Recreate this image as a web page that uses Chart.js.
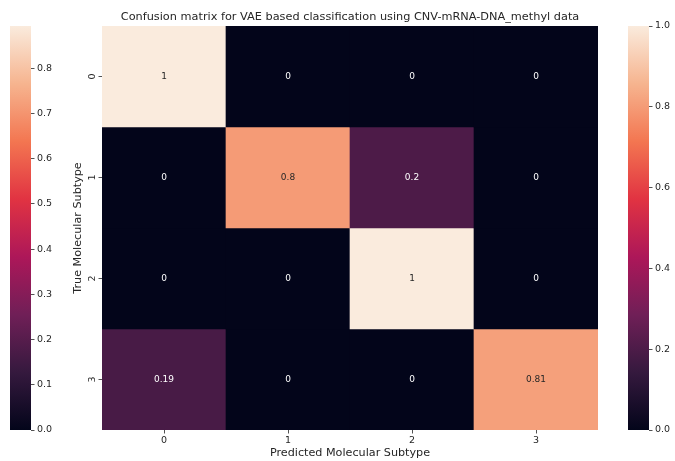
<!DOCTYPE html>
<html>
<head>
<meta charset="utf-8">
<title>Confusion matrix</title>
<script src="https://cdn.jsdelivr.net/npm/chart.js@4/dist/chart.umd.min.js"></script>
<style>
  html, body { margin: 0; padding: 0; background: #ffffff; }
  #wrap { position: relative; width: 675px; height: 461px; overflow: hidden; }
  #wrap canvas { position: absolute; top: 0; }
  #main { left: 0; }
  #barLeft { left: 0; }
  #barRight { left: 598px; }
</style>
</head>
<body>
<div id="wrap">
  <canvas id="main" width="675" height="461"></canvas>
  <canvas id="barLeft" width="62" height="461"></canvas>
  <canvas id="barRight" width="77" height="461"></canvas>
</div>
<script>
// ---- data ----
const predictedLabels = ['0', '1', '2', '3'];
const trueLabels = ['0', '1', '2', '3'];
const row0 = [1, 0, 0, 0];
const row1 = [0, 0.8, 0.2, 0];
const row2 = [0, 0, 1, 0];
const row3 = [0.19, 0, 0, 0.81];
const matrixRows = [row0, row1, row2, row3];

// colour bar ranges and tick values
const leftBarMax = 0.893;
const leftBarTicks = [0, 0.1, 0.2, 0.3, 0.4, 0.5, 0.6, 0.7, 0.8];
const rightBarMax = 1.0;
const rightBarTicks = [0, 0.2, 0.4, 0.6, 0.8, 1.0];

// ---- "rocket" colour map ----
const rocketStops = [
  [0 / 7, [3, 5, 26]],
  [1 / 7, [53, 25, 62]],
  [2 / 7, [112, 31, 87]],
  [3 / 7, [173, 23, 89]],
  [4 / 7, [225, 51, 66]],
  [5 / 7, [243, 118, 81]],
  [6 / 7, [246, 180, 143]],
  [7 / 7, [250, 235, 221]]
];

function rocketRGB(t) {
  t = Math.max(0, Math.min(1, t));
  for (let i = 1; i < rocketStops.length; i++) {
    const [t1, c1] = rocketStops[i];
    const [t0, c0] = rocketStops[i - 1];
    if (t <= t1) {
      const f = (t - t0) / (t1 - t0);
      return c0.map((a, k) => Math.round(a + (c1[k] - a) * f));
    }
  }
  return rocketStops[rocketStops.length - 1][1];
}
const rgbCss = (c) => `rgb(${c[0]},${c[1]},${c[2]})`;

function luminance(c) {
  const lin = c.map(v => {
    v /= 255;
    return v <= 0.03928 ? v / 12.92 : Math.pow((v + 0.055) / 1.055, 2.4);
  });
  return 0.2126 * lin[0] + 0.7152 * lin[1] + 0.0722 * lin[2];
}

const fmt2g = (v) => String(Number(v.toPrecision(2)));

const TEXT = '#262626';
const FONT = 'DejaVu Sans';

// writes each cell's value at the centre of its bar
const cellText = {
  id: 'cellText',
  afterDatasetsDraw(chart) {
    const ctx = chart.ctx;
    ctx.save();
    ctx.font = `9px "${FONT}"`;
    ctx.textAlign = 'center';
    ctx.textBaseline = 'middle';
    chart.data.datasets.forEach((ds, r) => {
      chart.getDatasetMeta(r).data.forEach((bar, c) => {
        const v = matrixRows[r][c];
        const p = bar.getProps(['x', 'y', 'base'], true);
        const col = rocketRGB(v / rightBarMax);
        ctx.fillStyle = luminance(col) > 0.408 ? TEXT : '#ffffff';
        ctx.fillText(fmt2g(v), p.x, (p.y + p.base) / 2);
      });
    });
    ctx.restore();
  }
};

const tickGrid = {
  drawOnChartArea: false,
  drawTicks: true,
  tickLength: 3.5,
  color: TEXT,
  lineWidth: 0.8
};

// ---- heat map ----
new Chart(document.getElementById('main'), {
  type: 'bar',
  data: {
    labels: predictedLabels,
    datasets: trueLabels.map((lab, r) => ({
      label: lab,
      data: predictedLabels.map(() => [r, r + 1]),
      backgroundColor: matrixRows[r].map(v => rgbCss(rocketRGB(v / rightBarMax))),
      borderWidth: 0,
      grouped: false,
      categoryPercentage: 1,
      barPercentage: 1
    }))
  },
  options: {
    responsive: false,
    animation: false,
    events: [],
    layout: { padding: { left: 62, right: 77, top: 0, bottom: 0 } },
    plugins: {
      legend: { display: false },
      tooltip: { enabled: false },
      title: {
        display: true,
        fullSize: false,
        text: 'Confusion matrix for VAE based classification using CNV-mRNA-DNA_methyl data',
        color: TEXT,
        font: { family: FONT, size: 11.3, weight: 'normal' },
        padding: { top: 10, bottom: 2.4 }
      }
    },
    scales: {
      x: {
        type: 'category',
        offset: true,
        grid: Object.assign({ offset: false }, tickGrid),
        border: { display: false },
        ticks: {
          color: TEXT,
          font: { family: FONT, size: 9.5 },
          padding: 1,
          minRotation: 0,
          maxRotation: 0
        },
        title: {
          display: true,
          text: 'Predicted Molecular Subtype',
          color: TEXT,
          font: { family: FONT, size: 11.2 },
          padding: { top: 0, bottom: 1.3 }
        },
        afterFit: (s) => { s.height = 31; }
      },
      y: {
        type: 'linear',
        min: 0,
        max: trueLabels.length,
        reverse: true,
        afterBuildTicks: (s) => { s.ticks = trueLabels.map((_, i) => ({ value: i + 0.5 })); },
        grid: tickGrid,
        border: { display: false },
        ticks: {
          callback: (v) => trueLabels[Math.floor(v)],
          color: TEXT,
          font: { family: FONT, size: 9.5 },
          minRotation: 90,
          maxRotation: 90,
          crossAlign: 'center',
          padding: 3
        },
        title: {
          display: true,
          text: 'True Molecular Subtype',
          color: TEXT,
          font: { family: FONT, size: 11.2 },
          padding: { top: 9.3, bottom: 0 }
        },
        afterFit: (s) => { s.width = 40; }
      }
    }
  },
  plugins: [cellText]
});

// ---- colour bars ----
function colorBar(canvasId, max, ticks, padLeft, axisWidth) {
  new Chart(document.getElementById(canvasId), {
    type: 'bar',
    data: {
      labels: [''],
      datasets: [{
        data: [[0, max]],
        backgroundColor: (c) => {
          const area = c.chart.chartArea;
          if (!area) return 'transparent';
          const g = c.chart.ctx.createLinearGradient(0, area.bottom, 0, area.top);
          rocketStops.forEach(([t, rgb]) => g.addColorStop(t, rgbCss(rgb)));
          return g;
        },
        borderWidth: 0,
        categoryPercentage: 1,
        barPercentage: 1
      }]
    },
    options: {
      responsive: false,
      animation: false,
      events: [],
      layout: { padding: { left: padLeft, right: 0, top: 26, bottom: 31 } },
      plugins: { legend: { display: false }, tooltip: { enabled: false } },
      scales: {
        x: { display: false },
        y: {
          position: 'right',
          min: 0,
          max: max,
          afterBuildTicks: (s) => { s.ticks = ticks.map(v => ({ value: v })); },
          grid: tickGrid,
          border: { display: false },
          ticks: {
            callback: (v) => v.toFixed(1),
            color: TEXT,
            font: { family: FONT, size: 9.5 },
            padding: 2.5
          },
          afterFit: (s) => { s.width = axisWidth; }
        }
      }
    }
  });
}

colorBar('barLeft', leftBarMax, leftBarTicks, 10, 31);
colorBar('barRight', rightBarMax, rightBarTicks, 30, 26);
</script>
</body>
</html>
